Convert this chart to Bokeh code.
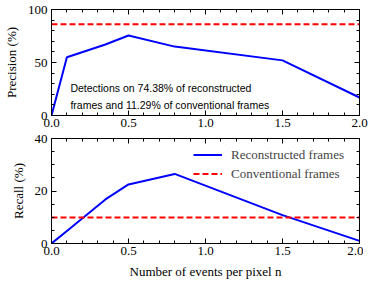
from bokeh.plotting import figure
from bokeh.layouts import column
from bokeh.models import (LinearAxis, SingleIntervalTicker, PrintfTickFormatter,
                          CustomJSTickFormatter, Range1d, Label, Legend, LegendItem)
from bokeh.embed import file_html
from bokeh.resources import INLINE

# ---- data ----
n_events = [0.0, 0.1, 0.35, 0.5, 0.8, 1.5, 2.0]
precision_recon = [0, 55, 67, 75.5, 65, 52, 17]
recall_recon = [0, 4.8, 16.8, 22.5, 26.5, 10.8, 1]
conv_x = [0.0, 2.0]
conv_precision = 86
conv_recall = 9.9
annotation = ["Detections on 74.38% of reconstructed",
              "frames and 11.29% of conventional frames"]
xlabel = "Number of events per pixel n"

SERIF = "Liberation Serif"
SANS = "Liberation Sans"
BLUE = "#0000ff"
RED = "#ff0000"


def style(p, yinterval, yminor):
    p.grid.visible = False
    p.outline_line_color = "black"
    p.outline_line_width = 1
    p.background_fill_color = "white"
    p.border_fill_color = "white"
    xt = SingleIntervalTicker(interval=0.5, num_minor_ticks=5)
    yt = SingleIntervalTicker(interval=yinterval, num_minor_ticks=yminor)
    p.xaxis.ticker = xt
    p.yaxis.ticker = yt
    p.xaxis.formatter = PrintfTickFormatter(format="%.1f")
    for ax in (p.xaxis, p.yaxis):
        ax.major_tick_in = 5
        ax.major_tick_out = 0
        ax.minor_tick_in = 3
        ax.minor_tick_out = 0
        ax.axis_line_color = "black"
        ax.major_tick_line_color = "black"
        ax.minor_tick_line_color = "black"
        ax.major_label_text_font = SERIF
        ax.major_label_text_font_size = "13px"
        ax.major_label_text_color = "black"
        ax.axis_label_text_font = SERIF
        ax.axis_label_text_font_size = "13px"
        ax.axis_label_text_font_style = "normal"
        ax.axis_label_text_color = "black"
    p.xaxis.major_label_standoff = 3
    p.yaxis.major_label_standoff = 4
    for loc, tk in (("right", yt), ("above", xt)):
        ax = LinearAxis(ticker=tk, formatter=CustomJSTickFormatter(code="return ''"),
                        major_tick_in=5, major_tick_out=0,
                        minor_tick_in=3, minor_tick_out=0,
                        major_label_standoff=0)
        p.add_layout(ax, loc)


# ---- top: precision ----
p1 = figure(frame_width=308, frame_height=106, x_range=Range1d(0, 2),
            y_range=Range1d(0, 100), output_backend="svg", toolbar_location=None,
            min_border_left=43, min_border_right=11, min_border_top=9,
            min_border_bottom=12)
style(p1, 50, 5)
p1.left[0].axis_label = "Precision (%)"
p1.left[0].axis_label_standoff = 6
p1.line(conv_x, [conv_precision] * len(conv_x), line_color=RED, line_width=2,
        line_dash="6 3")
p1.line(n_events, precision_recon, line_color=BLUE, line_width=2)
p1.add_layout(Label(x=0.123, y=32, text=annotation[0], text_font=SANS,
                    text_font_size="10.5px", text_baseline="top", text_color="black"))
p1.add_layout(Label(x=0.123, y=15.5, text=annotation[1], text_font=SANS,
                    text_font_size="10.5px", text_baseline="top", text_color="black"))

# ---- bottom: recall ----
p2 = figure(frame_width=308, frame_height=105, x_range=Range1d(0, 2),
            y_range=Range1d(0, 40), output_backend="svg", toolbar_location=None,
            min_border_left=43, min_border_right=11, min_border_top=9,
            min_border_bottom=30)
style(p2, 20, 4)
p2.left[0].axis_label = "Recall (%)"
p2.left[0].axis_label_standoff = 6
p2.below[0].axis_label = xlabel
p2.below[0].axis_label_standoff = 6
r_rec = p2.line(n_events, recall_recon, line_color=BLUE, line_width=2)
r_conv = p2.line(conv_x, [conv_recall] * len(conv_x), line_color=RED, line_width=2,
                 line_dash="6 3")
legend = Legend(items=[LegendItem(label="Reconstructed frames", renderers=[r_rec]),
                       LegendItem(label="Conventional frames", renderers=[r_conv])],
                location=(142, 60), border_line_alpha=0, background_fill_alpha=0,
                label_text_font=SERIF, label_text_font_size="13px",
                glyph_width=29, glyph_height=19, label_height=19, spacing=0,
                padding=0, margin=0, label_standoff=9)
p2.add_layout(legend)

layout = column(p1, p2, spacing=0)
open("out.html", "w").write(file_html(layout, INLINE))
